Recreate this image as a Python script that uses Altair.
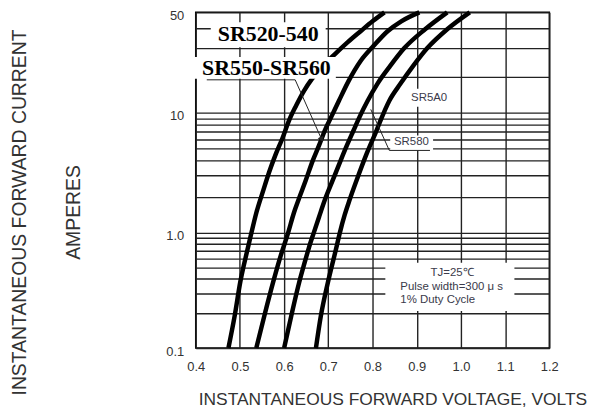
import altair as alt
import pandas as pd

# ---- axis values ----
x_ticks = [0.4, 0.5, 0.6, 0.7, 0.8, 0.9, 1.0, 1.1, 1.2]
y_grid = [0.1, 0.2, 0.3, 0.4, 0.5, 0.6, 0.7, 0.8, 0.9,
          1, 2, 3, 4, 5, 6, 7, 8, 9, 10, 20, 30, 40, 50]

# ---- curves: forward voltage (V) vs forward current (A) ----
c1_v = [0.474, 0.488, 0.501, 0.517, 0.526, 0.537, 0.553, 0.566, 0.580, 0.596,
        0.611, 0.627, 0.645, 0.663, 0.688, 0.715, 0.744, 0.773, 0.800, 0.827]
c1_i = [0.1, 0.189, 0.378, 0.713, 1.0, 1.463, 2.267, 3.193, 4.412, 6.098,
        8.589, 11.44, 15.27, 19.24, 23.37, 27.66, 32.76, 38.25, 44.04, 50]

c2_v = [0.537, 0.555, 0.575, 0.593, 0.609, 0.622, 0.634, 0.649, 0.665, 0.679,
        0.692, 0.708, 0.724, 0.746, 0.773, 0.802, 0.834, 0.865, 0.906]
c2_i = [0.1, 0.189, 0.371, 0.646, 1.0, 1.463, 1.946, 2.742, 4.012, 5.337,
        7.101, 9.445, 12.60, 18.52, 25.06, 30.96, 38.25, 44.04, 50]

c3_v = [0.600, 0.616, 0.634, 0.647, 0.656, 0.667, 0.679, 0.692, 0.710, 0.728,
        0.742, 0.757, 0.771, 0.789, 0.811, 0.840, 0.872, 0.919, 0.969]
c3_i = [0.1, 0.189, 0.371, 0.562, 0.742, 1.0, 1.356, 1.874, 2.742, 4.012,
        5.337, 7.101, 9.267, 12.60, 17.48, 23.37, 30.10, 39.34, 50]

c4_v = [0.672, 0.683, 0.699, 0.717, 0.726, 0.737, 0.748, 0.764, 0.787, 0.809,
        0.818, 0.838, 0.863, 0.892, 0.924, 0.969, 1.020]
c4_i = [0.1, 0.189, 0.371, 0.713, 1.0, 1.409, 1.874, 2.742, 4.583, 7.101,
        8.589, 12.60, 17.48, 23.37, 30.10, 39.34, 50]

series = ["SR520-540", "SR550-SR560", "SR580", "SR5A0"]

# ---- annotation content ----
big_labels = ["SR520-540", "SR550-SR560"]
big_v = [0.564, 0.560]
big_i = [36.7, 22.7]

small_labels = ["SR5A0", "SR580", "TJ=25\u2103"]
small_v = [0.928, 0.888, 0.980]
small_i = [13.35, 5.65, 0.452]

note_labels = ["Pulse width=300 \u03bc s", "1% Duty Cycle"]
note_v = [0.863, 0.863]
note_i = [0.342, 0.259]

box_v1 = [0.434, 0.393, 0.879, 0.840, 0.829]
box_v2 = [0.694, 0.717, 0.980, 0.937, 1.121]
box_i1 = [30.5, 19.3, 11.2, 4.85, 0.21]
box_i2 = [43.4, 26.5, 15.9, 6.46, 0.551]

ptr_group = ["a", "a", "a", "b", "b", "b"]
ptr_v = [0.425, 0.625, 0.685, 0.796, 0.838, 0.930]
ptr_i = [18.9, 18.9, 5.98, 10.66, 4.85, 4.85]
ptr_order = [0, 1, 2, 0, 1, 2]

arrow_v = [0.685]
arrow_i = [5.98]

# ---- tables ----
rows = []
for name, xs, ys in zip(series, [c1_v, c2_v, c3_v, c4_v], [c1_i, c2_i, c3_i, c4_i]):
    for k, (a, b) in enumerate(zip(xs, ys)):
        rows.append({"series": name, "v": a, "i": b, "k": k})
curves = pd.DataFrame(rows)

big_df = pd.DataFrame({"label": big_labels, "v": big_v, "i": big_i})
small_df = pd.DataFrame({"label": small_labels, "v": small_v, "i": small_i})
note_df = pd.DataFrame({"label": note_labels, "v": note_v, "i": note_i})
box_df = pd.DataFrame({"v": box_v1, "v2": box_v2, "i": box_i1, "i2": box_i2})
ptr_df = pd.DataFrame({"g": ptr_group, "v": ptr_v, "i": ptr_i, "o": ptr_order})
arrow_df = pd.DataFrame({"v": arrow_v, "i": arrow_i})

FONT = "Liberation Sans"
TXT = "#333333"
GRID = "#222222"

xscale = alt.Scale(domain=[0.4, 1.2], nice=False, zero=False)
yscale = alt.Scale(type="log", domain=[0.1, 1, 10, 20, 50],
                   range=[338, 222, 101, 65, 0], nice=False)

x_axis = alt.Axis(
    values=x_ticks, format=".1f", grid=True, gridColor=GRID, gridWidth=1.4,
    domain=False, ticks=False, tickSize=0, labelFlush=False, labelOverlap=False,
    labelFont=FONT, labelFontSize=13, labelColor=TXT, labelPadding=13,
    title="INSTANTANEOUS FORWARD VOLTAGE, VOLTS", titleFont=FONT,
    titleFontSize=17.5, titleFontWeight="normal", titleColor=TXT,
    titleX=198, titleY=52, titleAlign="center", titleBaseline="middle",
)
y_axis = alt.Axis(
    values=y_grid, grid=True, gridColor=GRID, gridWidth=1.4,
    domain=False, ticks=False, tickSize=0, labelOverlap=False,
    labelExpr="datum.value == 0.1 ? '0.1' : datum.value == 1 ? '1.0' : datum.value == 10 ? '10' : datum.value == 50 ? '50' : ''",
    labelFont=FONT, labelFontSize=13, labelColor=TXT, labelPadding=12, labelOffset=3,
    title=["INSTANTANEOUS FORWARD CURRENT", "AMPERES"], titleLineHeight=54,
    titleFont=FONT, titleFontSize=19.5, titleFontWeight="normal", titleColor=TXT,
    titleAngle=270, titleX=-186, titleY=201, titleAlign="center", titleBaseline="top",
)

X = alt.X("v:Q", scale=xscale, axis=x_axis)
Y = alt.Y("i:Q", scale=yscale, axis=y_axis)

lines = alt.Chart(curves).mark_line(
    color="black", strokeWidth=4.5, interpolate="monotone"
).encode(x=X, y=Y, detail="series:N", order="k:Q")

boxes = alt.Chart(box_df).mark_rect(color="white").encode(
    x=X, x2="v2:Q", y=Y, y2="i2:Q",
)

pointers = alt.Chart(ptr_df).mark_line(color="#222222", strokeWidth=1).encode(
    x=X, y=Y, detail="g:N", order="o:Q",
)

arrow = alt.Chart(arrow_df).mark_point(
    shape="triangle-down", filled=True, color="#222222", size=40, angle=336, opacity=1
).encode(x=X, y=Y)

big_text = alt.Chart(big_df).mark_text(
    font="Liberation Serif", fontWeight="bold", fontSize=22, color="black",
    align="center", baseline="middle"
).encode(x=X, y=Y, text="label:N")

small_text = alt.Chart(small_df).mark_text(
    font=FONT, fontSize=11.5, color="#3a3a4a", align="center", baseline="middle"
).encode(x=X, y=Y, text="label:N")

note_text = alt.Chart(note_df).mark_text(
    font=FONT, fontSize=11.5, color="#3a3a4a", align="left", baseline="middle"
).encode(x=X, y=Y, text="label:N")

chart = alt.layer(
    lines, boxes, pointers, arrow, big_text, small_text, note_text
).properties(
    width=356, height=338, autosize="none",
    padding={"left": 189, "top": 3, "right": 48, "bottom": 64},
    background="white",
).configure_view(
    stroke="black", strokeWidth=1.5
)

chart.save("out.html", embed_options={"renderer": "svg", "actions": False})
